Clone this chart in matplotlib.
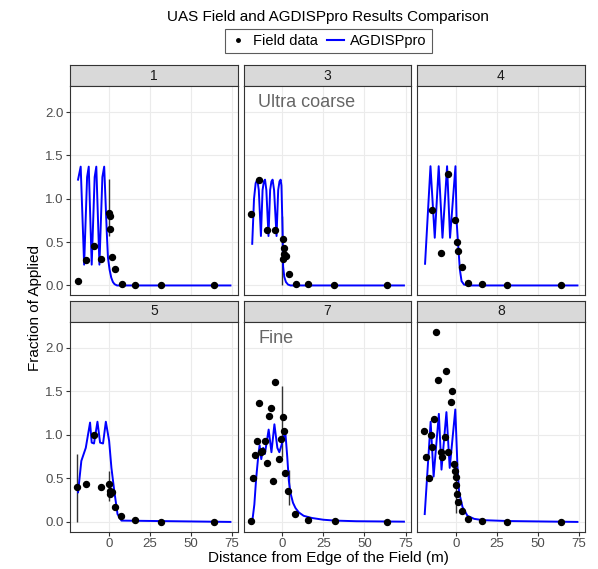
import matplotlib.pyplot as plt
from matplotlib.lines import Line2D

plt.rcParams['font.family'] = ['Liberation Sans', 'DejaVu Sans']

# Panels (facet labels)
PANELS = ['1', '3', '4', '5', '7', '8']

# Field data (points)
field_x_1 = [-18.7, -13.8, -9.0, -4.5, 0.0, 0.8, 1.0, 2.1, 4.0, 7.8, 15.9, 31.7, 63.8]
field_y_1 = [0.05, 0.29, 0.46, 0.31, 0.84, 0.80, 0.65, 0.33, 0.19, 0.02, 0.01, 0.0, 0.0]
field_x_3 = [-19.3, -14.4, -9.6, -4.5, 0.2, 0.8, 1.0, 0.2, 2.0, 3.8, 8.1, 15.8, 31.7, 63.8]
field_y_3 = [0.82, 1.22, 0.64, 0.64, 0.54, 0.43, 0.36, 0.31, 0.34, 0.13, 0.02, 0.015, 0.0, 0.0]
field_x_4 = [-14.2, -9.3, -4.7, -0.4, 0.8, 1.6, 3.9, 7.7, 15.9, 31.3, 63.8]
field_y_4 = [0.875, 0.37, 1.28, 0.75, 0.50, 0.40, 0.21, 0.03, 0.02, 0.0, 0.0]
field_x_5 = [-19.1, -14.0, -9.3, -4.5, 0.2, 0.8, 1.0, 2.2, 3.7, 7.7, 15.9, 31.7, 63.8]
field_y_5 = [0.40, 0.44, 1.0, 0.40, 0.43, 0.32, 0.36, 0.34, 0.175, 0.07, 0.02, 0.0, 0.0]
field_x_7 = [-19.1, -17.9, -16.5, -15.5, -14.1, -13.0, -12.2, -10.8, -9.3, -8.0, -6.7, -5.6,
             -4.4, -1.9, -0.6, 0.2, 0.9, 1.9, 3.7, 8.0, 15.9, 31.8, 64.0]
field_y_7 = [0.015, 0.50, 0.77, 0.93, 1.37, 0.80, 0.81, 0.93, 0.68, 1.21, 1.31, 0.47,
             1.61, 0.72, 0.95, 1.20, 1.04, 0.56, 0.35, 0.09, 0.026, 0.01, 0.0]
field_x_8 = [-19.4, -17.9, -16.6, -15.3, -14.2, -13.2, -11.8, -10.7, -8.9, -8.1, -6.7, -5.7, -4.5,
             -3.2, -2.2, -1.0, -0.4, 0.0, 0.4, 1.0, 1.6, 3.5, 7.5, 15.7, 31.3, 63.8]
field_y_8 = [1.04, 0.75, 0.50, 1.0, 0.86, 1.18, 2.18, 1.63, 0.80, 0.74, 0.98, 1.73, 0.80,
             1.38, 1.50, 0.66, 0.59, 0.51, 0.42, 0.32, 0.23, 0.12, 0.035, 0.015, 0.0, 0.0]

# AGDISPpro model output (lines)
model_x_1 = [-18.7, -17.1, -15.0, -13.2, -12.2, -10.4, -8.6, -7.6, -5.7, -3.9, -2.8,
             -1.2, -0.5, 0.5, 1.5, 2.5, 3.5, 5.0, 16, 32, 64, 74]
model_y_1 = [1.22, 1.37, 0.24, 1.25, 1.37, 0.24, 1.25, 1.37, 0.24, 1.25, 1.37,
             0.60, 0.32, 0.18, 0.09, 0.04, 0.015, 0.0, 0.0, 0.0, 0.0, 0.0]
model_x_3 = [-18.3, -17.2, -16.2, -15.2, -14.3, -13.0, -12.0, -11.2, -10.5, -9.7, -8.4, -7.4,
             -6.6, -5.9, -5.0, -3.5, -2.5, -1.7, -1.0, -0.5, 0.2, 0.5, 1.2, 2.2, 3.5, 5.0, 74]
model_y_3 = [0.48, 1.0, 1.18, 1.22, 1.1, 0.57, 1.1, 1.2, 1.22, 1.1, 0.57, 1.1,
             1.2, 1.22, 1.1, 0.57, 1.1, 1.2, 1.22, 1.15, 0.6, 0.22, 0.1, 0.04, 0.01, 0.0, 0.0]
model_x_4 = [-18.7, -15.4, -12.8, -10.4, -8.1, -5.3, -3.5, -0.2, 0.5, 1.5, 2.5, 3.5, 5.0, 8.0, 74]
model_y_4 = [0.25, 1.375, 0.55, 1.375, 0.55, 1.375, 0.55, 1.375, 0.74, 0.45, 0.18, 0.05, 0.01, 0.0, 0.0]
model_x_5 = [-18.7, -16.7, -14.0, -11.4, -10.4, -9.0, -6.9, -5.3, -3.5, -1.8,
             0.2, 1.6, 3.3, 5.3, 7.7, 74]
model_y_5 = [0.34, 0.70, 0.85, 1.14, 0.91, 0.90, 1.15, 0.91, 0.90, 1.15,
             0.93, 0.62, 0.36, 0.09, 0.015, 0.0]
model_x_7 = [-18.3, -17.0, -15.9, -14.5, -13.8, -12.8, -11.6, -10.6, -8.3, -6.6, -4.8, -3.0,
             -1.8, -0.5, 1.8, 3.0, 4.0, 5.0, 6.5, 8.0, 10, 13, 18, 25, 32, 45, 74]
model_y_7 = [0.0, 0.2, 0.5, 0.78, 0.88, 0.72, 0.85, 0.78, 1.06, 0.80, 1.12, 0.85,
             0.80, 0.88, 1.04, 0.75, 0.47, 0.33, 0.22, 0.16, 0.11, 0.07, 0.045, 0.025, 0.015, 0.008, 0.003]
model_x_8 = [-18.9, -15.3, -13.5, -10.3, -8.7, -5.7, -3.7, -0.3, 1.0, 2.0, 4.1, 7.1, 11.2, 16.6, 32, 74]
model_y_8 = [0.09, 1.15, 0.52, 1.24, 0.60, 1.26, 0.62, 1.29, 0.64, 0.34, 0.17, 0.07, 0.035, 0.02, 0.01, 0.0]

# Error bars: (x, low, high)
errbars = {
    '1': [(0.0, 0.57, 1.23)],
    '3': [(0.0, 0.0, 0.80)],
    '4': [],
    '5': [(-19.1, 0.0, 0.78), (0.0, 0.24, 0.58)],
    '7': [(0.0, 0.74, 1.56), (3.8, 0.19, 0.60)],
    '8': [(0.0, 0.10, 0.66)],
}

# Annotations per panel
notes = {'3': 'Ultra coarse', '7': 'Fine'}

field = {'1': (field_x_1, field_y_1), '3': (field_x_3, field_y_3), '4': (field_x_4, field_y_4),
         '5': (field_x_5, field_y_5), '7': (field_x_7, field_y_7), '8': (field_x_8, field_y_8)}
model = {'1': (model_x_1, model_y_1), '3': (model_x_3, model_y_3), '4': (model_x_4, model_y_4),
         '5': (model_x_5, model_y_5), '7': (model_x_7, model_y_7), '8': (model_x_8, model_y_8)}

W, H = 598, 569


def box(left, top, right, bottom):
    return [left / W, 1 - bottom / H, (right - left) / W, (bottom - top) / H]


fig = plt.figure(figsize=(W / 100, H / 100), dpi=100)

col_lefts = [70, 243.5, 417]
panel_w = 168
rows = [(65, 86, 295), (301, 321.5, 531.5)]

for i, name in enumerate(PANELS):
    r, c = divmod(i, 3)
    left = col_lefts[c]
    s_top, p_top, p_bot = rows[r]

    # strip
    sax = fig.add_axes(box(left, s_top, left + panel_w, p_top))
    sax.set_facecolor('#D9D9D9')
    sax.set_xticks([])
    sax.set_yticks([])
    for sp in sax.spines.values():
        sp.set_color('#333333')
        sp.set_linewidth(0.8)
    sax.text(0.5, 0.5, name, ha='center', va='center', fontsize=10, color='#1A1A1A',
             transform=sax.transAxes)

    ax = fig.add_axes(box(left, p_top, left + panel_w, p_bot))
    ax.set_xlim(-23.6, 78.6)
    ax.set_ylim(-0.11, 2.30)
    ax.set_xticks([0, 25, 50, 75])
    ax.set_yticks([0.0, 0.5, 1.0, 1.5, 2.0])
    ax.grid(True, color='#EBEBEB', lw=0.8)
    ax.set_axisbelow(True)
    for sp in ax.spines.values():
        sp.set_color('#333333')
        sp.set_linewidth(0.8)
    ax.tick_params(length=3, color='#333333', labelsize=9.5, labelcolor='#4D4D4D', pad=1.5)
    if c != 0:
        ax.tick_params(labelleft=False, left=False)
    else:
        ax.set_yticklabels(['0.0', '0.5', '1.0', '1.5', '2.0'])
    if r == 0:
        ax.tick_params(labelbottom=False, bottom=False)

    for x, lo, hi in errbars[name]:
        ax.vlines(x, lo, hi, color='#333333', lw=1.0, zorder=2)
    mx, my = model[name]
    ax.plot(mx, my, color='#0000FF', lw=1.4, zorder=3)
    fx, fy = field[name]
    ax.plot(fx, fy, 'o', color='black', markersize=4.3, ls='none', zorder=4)

    if name in notes:
        ax.text(-14.5, 2.11, notes[name], ha='left', va='center', fontsize=13, color='#666666')

fig.text(328 / W, 1 - 17 / H, 'UAS Field and AGDISPpro Results Comparison',
         ha='center', va='center', fontsize=11)
fig.text(328 / W, 1 - 558 / H, 'Distance from Edge of the Field (m)',
         ha='center', va='center', fontsize=11)
fig.text(35 / W, 1 - 308 / H, 'Fraction of Applied', ha='center', va='center',
         rotation=90, fontsize=11)

handles = [Line2D([], [], marker='o', ls='none', color='black', markersize=2.5, label='Field data'),
           Line2D([], [], color='#0000FF', lw=1.5, label='AGDISPpro')]
leg = fig.legend(handles=handles, loc='center', bbox_to_anchor=(328 / W, 1 - 41 / H), ncol=2,
                 frameon=True, fancybox=False, edgecolor='#333333', fontsize=10.5,
                 handlelength=1.2, columnspacing=0.6, handletextpad=0.4, borderpad=0.35)
leg.get_frame().set_linewidth(0.8)

fig.savefig('out.png', dpi=100)
